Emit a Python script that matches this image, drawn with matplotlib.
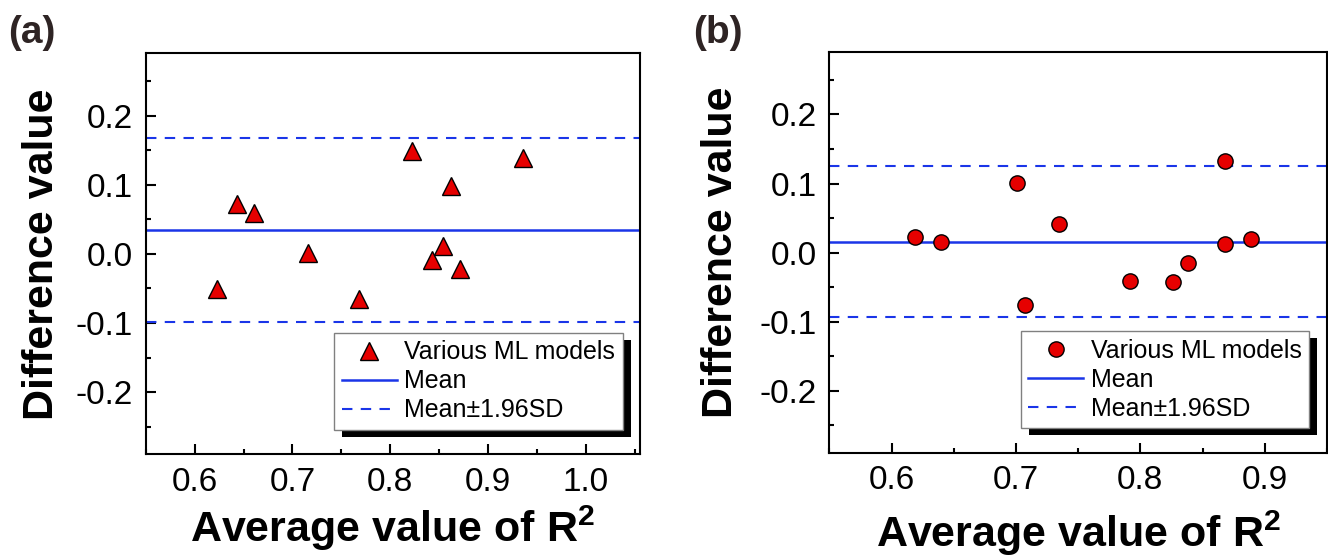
import numpy as np
import matplotlib
matplotlib.use('Agg')
import matplotlib.pyplot as plt
from matplotlib.patches import Rectangle
from matplotlib.ticker import MultipleLocator, FormatStrFormatter

plt.rcParams['font.family'] = ['Liberation Sans', 'DejaVu Sans']
plt.rcParams['mathtext.fontset'] = 'custom'
plt.rcParams['mathtext.rm'] = 'Liberation Sans:bold'
plt.rcParams['mathtext.bf'] = 'Liberation Sans:bold'
plt.rcParams['axes.unicode_minus'] = False

# (a) Bland-Altman: average R^2 vs. difference for each ML model
avg_a = [0.623, 0.643, 0.661, 0.716, 0.768, 0.822, 0.843, 0.854, 0.862, 0.871, 0.936]
diff_a = [-0.051, 0.072, 0.059, 0.001, -0.065, 0.149, -0.009, 0.012, 0.098, -0.022, 0.139]
mean_a = 0.035
limits_a = [-0.098, 0.168]

# (b)
avg_b = [0.619, 0.640, 0.701, 0.707, 0.735, 0.792, 0.826, 0.838, 0.868, 0.868, 0.889]
diff_b = [0.022, 0.015, 0.101, -0.076, 0.041, -0.041, -0.042, -0.015, 0.133, 0.012, 0.019]
mean_b = 0.015
limits_b = [-0.094, 0.125]

BLUE = '#1a35e8'
RED = '#e60000'


def style_axes(ax, xlim):
    ax.set_xlim(*xlim)
    ax.set_ylim(-0.29, 0.29)
    ax.xaxis.set_major_locator(MultipleLocator(0.1))
    ax.xaxis.set_minor_locator(MultipleLocator(0.05))
    ax.yaxis.set_major_locator(MultipleLocator(0.1))
    ax.yaxis.set_minor_locator(MultipleLocator(0.05))
    ax.xaxis.set_major_formatter(FormatStrFormatter('%.1f'))
    ax.yaxis.set_major_formatter(FormatStrFormatter('%.1f'))
    ax.tick_params(which='both', direction='in', top=False, right=False,
                   width=1.5, labelsize=24)
    ax.tick_params(which='major', length=7.2, pad=9)
    ax.tick_params(which='minor', length=3.6)
    for s in ax.spines.values():
        s.set_linewidth(1.5)


def bland_altman(ax, avg, diff, mean, limits, marker, ms):
    ax.plot(avg, diff, ls='none', marker=marker, ms=ms, mfc=RED, mec='black',
            mew=1.0, label='Various ML models', zorder=3)
    ax.axhline(mean, color=BLUE, lw=1.8, label='Mean', zorder=2)
    ax.axhline(limits[0], color=BLUE, lw=1.5, ls=(0, (5, 4)),
               label='Mean\u00b11.96SD', zorder=2)
    ax.axhline(limits[1], color=BLUE, lw=1.5, ls=(0, (5, 4)), zorder=2)
    leg = ax.legend(loc='lower right', bbox_to_anchor=(0.964, 0.061),
                    borderaxespad=0, fontsize=18, fancybox=False,
                    edgecolor='#808080', framealpha=1, handlelength=2.2,
                    handletextpad=0.3, labelspacing=0.2, borderpad=0.3)
    leg.get_frame().set_linewidth(1.0)
    return leg


fig = plt.figure(figsize=(13.28, 5.56), dpi=100)
ax_a = fig.add_axes([0.1097, 0.1829, 0.3725, 0.7212])
ax_b = fig.add_axes([0.6245, 0.1858, 0.3747, 0.7200])

style_axes(ax_a, (0.55, 1.0556))
style_axes(ax_b, (0.55, 0.95))

leg_a = bland_altman(ax_a, avg_a, diff_a, mean_a, limits_a, '^', 13)
leg_b = bland_altman(ax_b, avg_b, diff_b, mean_b, limits_b, 'o', 11)

label_font = dict(fontsize=31, fontweight='bold')
for ax, ylx, xly in [(ax_a, -0.187, -0.218), (ax_b, -0.196, -0.235)]:
    ax.set_ylabel('Difference value', va='baseline', **label_font)
    ax.yaxis.set_label_coords(ylx, 0.5)
    ax.set_xlabel(r'Average value of R$^\mathbf{2}$', va='baseline', **label_font)
    ax.xaxis.set_label_coords(0.5, xly)

fig.text(0.0064, 0.922, '(a)', fontsize=28, fontweight='bold',
         color='#2e2424', va='baseline')
fig.text(0.5223, 0.922, '(b)', fontsize=28, fontweight='bold',
         color='#2e2424', va='baseline')

# solid black drop shadow behind each legend box
fig.canvas.draw()
for ax, leg in [(ax_a, leg_a), (ax_b, leg_b)]:
    bb = leg.get_window_extent()
    shadow = Rectangle((bb.x0 + 8, bb.y0 - 7), bb.width, bb.height,
                       transform=None, facecolor='black', edgecolor='none',
                       clip_on=False, zorder=leg.get_zorder() - 0.1)
    ax.add_patch(shadow)

fig.savefig('out.png', dpi=100)
